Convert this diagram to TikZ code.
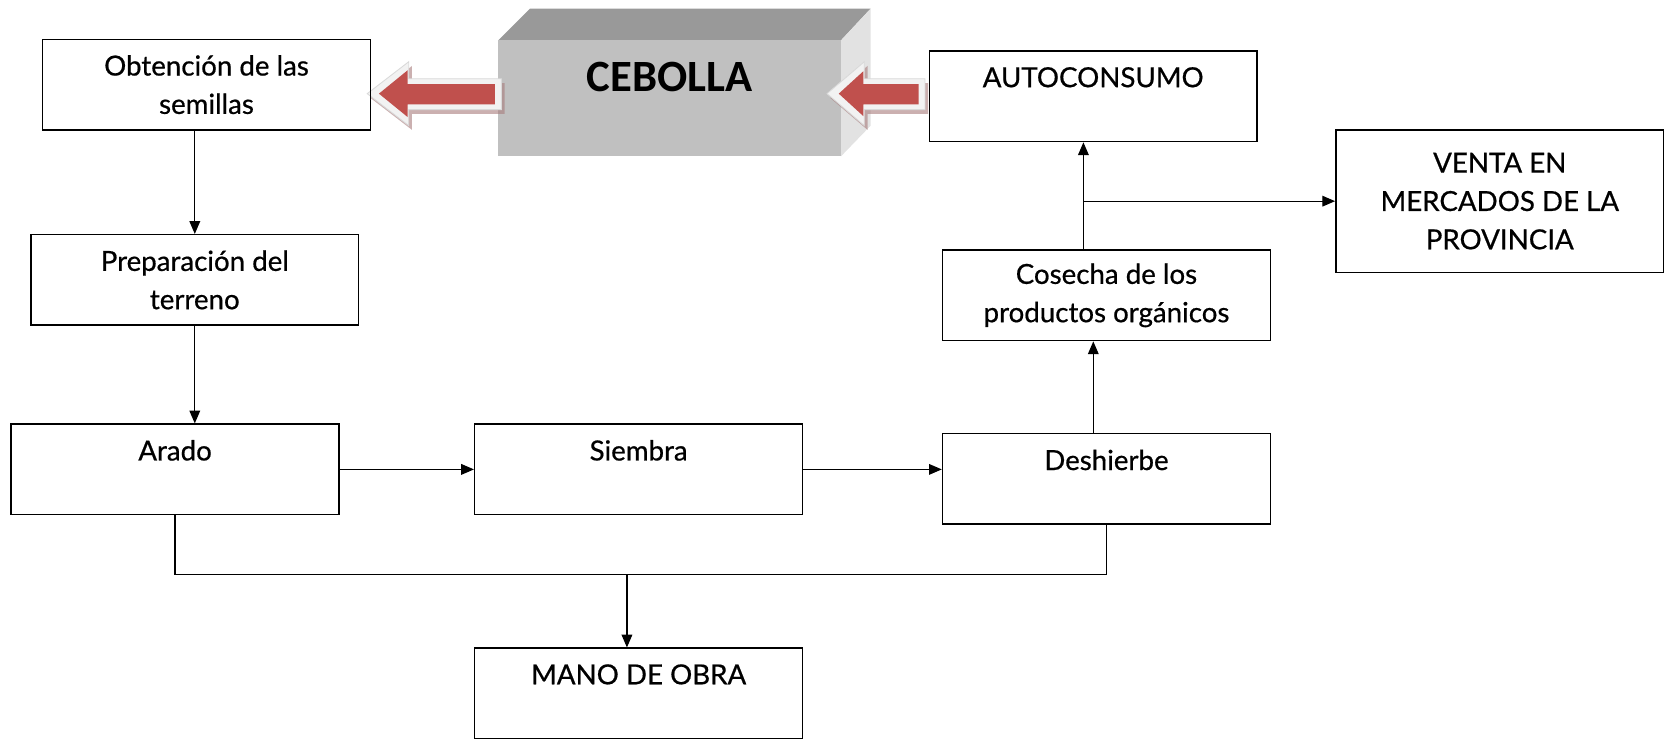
\documentclass[tikz,border=0pt]{standalone}
\usepackage{fontspec}
\setmainfont{Lato}[FakeBold=0.6]
\newfontfamily\cebfont{Carlito}
\usetikzlibrary{arrows.meta,calc}
\definecolor{frontgray}{HTML}{C0C0C0}
\definecolor{topgray}{HTML}{999999}
\definecolor{sidegray}{HTML}{E2E2E2}
\definecolor{arrred}{HTML}{C0504D}
\definecolor{arrout}{HTML}{F2F2F2}
\definecolor{arrshadow}{HTML}{A87C7C}
\begin{document}
\begin{tikzpicture}[x=0.5pt,y=-0.5pt,
  box/.style={draw,line width=0.7pt,minimum width=154pt,minimum height=42.5pt,inner sep=0pt,align=center,font=\fontsize{13}{18}\selectfont},
  arr/.style={-{Triangle[length=6pt,width=5pt]},line width=0.6pt},
  ln/.style={line width=0.6pt},
  blockout/.style={fill=arrout,draw=black!15,line width=0.4pt},
  blockin/.style={fill=arrred,draw=none},
  blockshadow/.style={fill=arrshadow,opacity=0.6,draw=none}]
\useasboundingbox (0,0) rectangle (1568,694);

% CEBOLLA 3D block
\fill[topgray] (468,38) -- (498,8) -- (818,8) -- (790,38) -- cycle;
\fill[sidegray] (790,38) -- (818,8) -- (818,118) -- (790,147) -- cycle;
\fill[frontgray] (468,38) rectangle (790,147);
\node[font=\cebfont\bfseries\fontsize{21}{24}\selectfont] (cebolla) at (629,72) {CEBOLLA};

% left block arrow
\fill[blockshadow] (348,92) -- (387,62) -- (387,78) -- (474,78) -- (474,107) -- (387,107) -- (387,122) -- cycle;
\path[blockout] (345,88) -- (384,58) -- (384,74) -- (471,74) -- (471,103) -- (384,103) -- (384,118) -- cycle;
\path[blockin] (356,88) -- (383,66) -- (383,79) -- (465,79) -- (465,98) -- (383,98) -- (383,110) -- cycle;

% right block arrow
\fill[blockshadow] (780,92) -- (815,62) -- (815,78) -- (872,78) -- (872,107) -- (815,107) -- (815,122) -- cycle;
\path[blockout] (777,88) -- (812,58) -- (812,74) -- (869,74) -- (869,103) -- (812,103) -- (812,118) -- cycle;
\path[blockin] (788,88) -- (811,67) -- (811,79) -- (863,79) -- (863,98) -- (811,98) -- (811,109) -- cycle;

% boxes
\node[box] (obt) at (194,79.5) {Obtención de las\\semillas};
\node[box] (prep) at (183,263) {Preparación del\\terreno};
\node[box] (arado) at (164.5,441) {Arado\\\mbox{}};
\node[box] (siembra) at (600,441) {Siembra\\\mbox{}};
\node[box] (desh) at (1039.5,450) {Deshierbe\\\mbox{}};
\node[box] (mano) at (600,651.5) {MANO DE OBRA\\\mbox{}};
\node[box] (cos) at (1039.5,277.5) {Cosecha de los\\productos orgánicos};
\node[box] (auto) at (1027,90.5) {AUTOCONSUMO\\\mbox{}};
\node[box,minimum height=67pt] (venta) at (1409,189) {VENTA EN\\MERCADOS DE LA\\PROVINCIA};

% connectors
\draw[arr] (obt.south -| prep.north) -- (prep.north);
\draw[arr] (prep.south) -- (prep.south |- arado.north);
\draw[arr] (arado.east) -- (siembra.west);
\draw[arr] (siembra.east) -- (siembra.east -| desh.west);
\coordinate (dn) at ($(desh.north west)!0.46!(desh.north east)$);
\draw[arr] (dn) -- (dn |- cos.south);
\coordinate (cn) at ($(cos.north west)!0.43!(cos.north east)$);
\draw[arr] (cn) -- (cn |- auto.south);
\coordinate (br) at (cn |- venta.west);
\draw[arr] (br) -- (venta.west);
\coordinate (jn) at (589,540);
\draw[ln] (arado.south) |- (jn) -| (desh.south);
\draw[arr] (jn) -- (jn |- mano.north);
\end{tikzpicture}
\end{document}
